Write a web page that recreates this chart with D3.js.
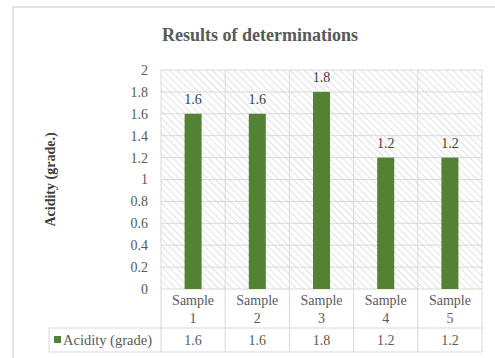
<!DOCTYPE html>
<html>
<head>
<meta charset="utf-8">
<script src="https://cdn.jsdelivr.net/npm/d3@7"></script>
<style>
  html, body { margin: 0; padding: 0; background: #ffffff; }
  svg { display: block; }
  text { font-family: "Liberation Serif", "Times New Roman", serif; }
</style>
</head>
<body>
<svg id="chart" width="495" height="358"></svg>
<script>
// Chart data
const categories = ["Sample 1", "Sample 2", "Sample 3", "Sample 4", "Sample 5"];
const acidity = [1.6, 1.6, 1.8, 1.2, 1.2];
const seriesName = "Acidity (grade)";
const yTicks = [0, 0.2, 0.4, 0.6, 0.8, 1, 1.2, 1.4, 1.6, 1.8, 2];
const chartTitle = "Results of determinations";
const yTitle = "Acidity (grade.)";

const svg = d3.select("#chart");
const W = 495, H = 358;

const plot = { left: 161, right: 482, top: 70, bottom: 289 };
const table = { left: 49, catBottom: 328, dataBottom: 352 };

const gridColor = "#d9d9d9";
const textColor = "#595959";
const barColor = "#548235";
const fs = 14;

// Diagonal hatch fill for the plot background
const defs = svg.append("defs");
const pat = defs.append("pattern")
  .attr("id", "hatch")
  .attr("patternUnits", "userSpaceOnUse")
  .attr("width", 5).attr("height", 5)
  .attr("patternTransform", "rotate(-45)");
pat.append("rect").attr("width", 5).attr("height", 5).attr("fill", "#ffffff");
pat.append("line")
  .attr("x1", 0).attr("y1", 0).attr("x2", 0).attr("y2", 5)
  .attr("stroke", "#d4d4d4").attr("stroke-width", 1.4);

// Outer frame (top and left edges)
svg.append("path")
  .attr("d", `M13,${H} L13,7 L${W},7`)
  .attr("fill", "none")
  .attr("stroke", "#d9d9d9")
  .attr("stroke-width", 1.5);

// Scales
const y = d3.scaleLinear().domain([0, 2]).range([plot.bottom, plot.top]);
const xCell = d3.scaleBand().domain(categories).range([plot.left, plot.right]).padding(0);
const xBar = d3.scaleBand().domain(categories).range([plot.left, plot.right])
  .paddingInner(0.735).paddingOuter(0.3675);

// Plot background
svg.append("rect")
  .attr("x", plot.left).attr("y", plot.top)
  .attr("width", plot.right - plot.left).attr("height", plot.bottom - plot.top)
  .attr("fill", "url(#hatch)");

// Horizontal gridlines
svg.append("g").selectAll("line").data(yTicks).join("line")
  .attr("x1", plot.left).attr("x2", plot.right)
  .attr("y1", d => y(d)).attr("y2", d => y(d))
  .attr("stroke", gridColor).attr("stroke-width", 1);

// Vertical gridlines at category boundaries, running down through the table
const bounds = categories.map(c => xCell(c)).concat([plot.right]);
svg.append("g").selectAll("line").data(bounds).join("line")
  .attr("x1", d => d).attr("x2", d => d)
  .attr("y1", plot.top).attr("y2", table.dataBottom)
  .attr("stroke", gridColor).attr("stroke-width", 1);

// Data table lines
const tbl = svg.append("g").attr("stroke", gridColor).attr("stroke-width", 1);
tbl.append("line").attr("x1", table.left).attr("x2", plot.right)
  .attr("y1", table.catBottom).attr("y2", table.catBottom);
tbl.append("line").attr("x1", table.left).attr("x2", plot.right)
  .attr("y1", table.dataBottom).attr("y2", table.dataBottom);
tbl.append("line").attr("x1", table.left).attr("x2", table.left)
  .attr("y1", table.catBottom).attr("y2", table.dataBottom);

// Bars
svg.append("g").selectAll("rect").data(acidity).join("rect")
  .attr("x", (d, i) => xBar(categories[i]))
  .attr("width", xBar.bandwidth())
  .attr("y", d => y(d))
  .attr("height", d => y(0) - y(d))
  .attr("fill", barColor);

// Value labels above the bars
svg.append("g").selectAll("text").data(acidity).join("text")
  .attr("x", (d, i) => xBar(categories[i]) + xBar.bandwidth() / 2)
  .attr("y", d => y(d) - 10)
  .attr("text-anchor", "middle")
  .attr("font-size", fs)
  .attr("fill", "#404040")
  .text(d => d.toFixed(1));

// Y axis tick labels
const yAxis = d3.axisLeft(y).tickValues(yTicks).tickSize(0).tickPadding(0)
  .tickFormat(d => d3.format("~g")(d));
const ya = svg.append("g").attr("transform", `translate(${plot.left - 13},0)`).call(yAxis);
ya.select(".domain").remove();
ya.selectAll("text")
  .attr("font-size", fs)
  .attr("fill", textColor);

// Category labels (two lines)
const cat = svg.append("g").selectAll("text").data(categories).join("text")
  .attr("x", d => xCell(d) + xCell.bandwidth() / 2)
  .attr("y", 305)
  .attr("text-anchor", "middle")
  .attr("font-size", fs)
  .attr("fill", textColor);
cat.append("tspan").text(d => d.split(" ")[0]);
cat.append("tspan")
  .attr("x", d => xCell(d) + xCell.bandwidth() / 2)
  .attr("dy", 18)
  .text(d => d.split(" ")[1]);

// Data table values
svg.append("g").selectAll("text").data(acidity).join("text")
  .attr("x", (d, i) => xCell(categories[i]) + xCell.bandwidth() / 2)
  .attr("y", 345)
  .attr("text-anchor", "middle")
  .attr("font-size", fs)
  .attr("fill", textColor)
  .text(d => d.toFixed(1));

// Legend key inside the table
svg.append("rect")
  .attr("x", 54).attr("y", 336).attr("width", 7).attr("height", 7)
  .attr("fill", barColor);
svg.append("text")
  .attr("x", 63).attr("y", 345)
  .attr("font-size", fs + 0.5)
  .attr("fill", textColor)
  .text(seriesName);

// Chart title
svg.append("text")
  .attr("x", 260).attr("y", 41)
  .attr("text-anchor", "middle")
  .attr("font-size", 18)
  .attr("font-weight", "bold")
  .attr("fill", textColor)
  .text(chartTitle);

// Y axis title
svg.append("text")
  .attr("transform", `translate(55,${(plot.top + plot.bottom) / 2}) rotate(-90)`)
  .attr("text-anchor", "middle")
  .attr("font-size", fs)
  .attr("font-weight", "bold")
  .attr("fill", "#404040")
  .text(yTitle);
</script>
</body>
</html>
